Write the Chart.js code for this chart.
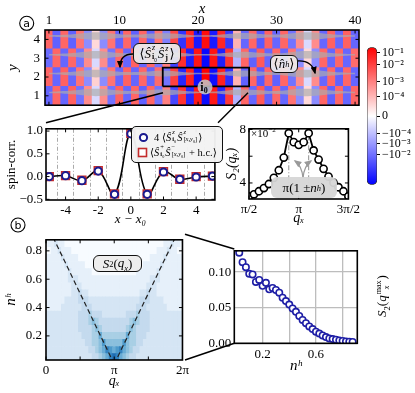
<!DOCTYPE html>
<html>
<head>
<meta charset="utf-8">
<script src="https://cdn.jsdelivr.net/npm/chart.js@4.4.0/dist/chart.umd.min.js"></script>
<style>
  body { margin: 0; width: 415px; height: 393px; overflow: hidden; position: relative; background: #fff;
         font-family: "Liberation Serif", "DejaVu Serif", serif; color: #000; }
  canvas { position: absolute; }
  .box { position: absolute; display: flex; align-items: center; justify-content: center; white-space: nowrap;
         border: 1.2px solid #111; border-radius: 6px; background: rgba(236,236,236,0.93); font-size: 13px; box-sizing: border-box; }
  .ss { display: inline-flex; flex-direction: column; vertical-align: middle; font-size: 0.62em; line-height: 1.05; margin: 0 1px; }
  .lg { position: absolute; font-size: 10.5px; white-space: nowrap; display: flex; align-items: center; }
  sup, sub { font-size: 0.65em; }
  svg { position: absolute; left: 0; top: 0; }
</style>
</head>
<body>
<canvas id="cMap" width="365" height="118" style="left:0;top:0"></canvas>
<canvas id="cBar" width="53" height="156" style="left:362px;top:38px"></canvas>
<canvas id="cSpin" width="222" height="109" style="left:0;top:118px"></canvas>
<canvas id="cS2" width="139" height="109" style="left:224px;top:118px"></canvas>
<canvas id="cMapB" width="192" height="162" style="left:0;top:228px"></canvas>
<canvas id="cMax" width="170" height="140" style="left:200px;top:240px"></canvas>

<svg width="415" height="393">
  <defs>
    <marker id="ah" viewBox="0 0 10 10" refX="8" refY="5" markerWidth="6" markerHeight="6" orient="auto">
      <path d="M0,1 L10,5 L0,9 z" fill="#000"/>
    </marker>
    <marker id="ahg" viewBox="0 0 10 10" refX="8" refY="5" markerWidth="6" markerHeight="6" orient="auto">
      <path d="M0,1 L10,5 L0,9 z" fill="#9a9a9a"/>
    </marker>
  </defs>
  <g stroke="#000" stroke-width="1.5" fill="none">
    <line x1="163" y1="92.7" x2="46" y2="122.7"/>
    <line x1="248" y1="92.7" x2="218" y2="122.7"/>
    <line x1="185" y1="234.3" x2="234.3" y2="249"/>
    <line x1="185" y1="360" x2="234.3" y2="343.3"/>
  </g>
  <path d="M133,54 Q120,54 120,67" stroke="#000" stroke-width="1.3" fill="none" marker-end="url(#ah)"/>
  <path d="M297,61 Q312,60 315,73" stroke="#000" stroke-width="1.3" fill="none" marker-end="url(#ah)"/>
  <path d="M303,178 Q302,166 295,161" stroke="#9a9a9a" stroke-width="1.3" fill="none" marker-end="url(#ahg)"/>
  <path d="M303,178 Q304,166 311,161" stroke="#9a9a9a" stroke-width="1.3" fill="none" marker-end="url(#ahg)"/>
  <circle cx="26.7" cy="23.3" r="7" stroke="#000" stroke-width="1.1" fill="#fff"/>
  <text x="26.7" y="27.3" text-anchor="middle" font-family="DejaVu Sans" font-size="11">a</text>
  <circle cx="18" cy="225" r="7" stroke="#000" stroke-width="1.1" fill="#fff"/>
  <text x="18" y="229" text-anchor="middle" font-family="DejaVu Sans" font-size="11">b</text>
  <circle cx="205" cy="87" r="7.5" fill="rgba(196,196,196,0.88)"/>
  <text x="204" y="91" text-anchor="middle" font-family="Liberation Serif" font-weight="bold" font-size="12">i<tspan font-size="8" dy="2">0</tspan></text>
</svg>

<div class="box" style="left:133px;top:43px;width:48px;height:21px;">⟨<i>Ŝ</i><span class="ss"><i>z</i><span><b>i</b><sub>0</sub></span></span><i>Ŝ</i><span class="ss"><i>z</i><b>j</b></span>⟩</div>
<div class="box" style="left:270px;top:55px;width:28px;height:18px;">⟨<i>n̂</i><sup><i>h</i></sup>⟩</div>

<div class="box" style="left:131px;top:126px;width:92px;height:37px;border-width:1px;border-radius:5px;background:rgba(243,243,243,0.96);"></div>
<div class="lg" style="left:138px;top:130px;height:14px;">
  <svg width="11" height="11" style="position:static;margin-right:5px"><circle cx="5.5" cy="5.5" r="3.6" stroke="#1b1b8f" stroke-width="2" fill="#fff"/></svg>
  4&nbsp;⟨<i>Ŝ</i><span class="ss"><i>z</i><span><b>i</b><sub>0</sub></span></span><i>Ŝ</i><span class="ss"><i>z</i><span>[<i>x</i>,<i>y</i><sub>0</sub>]</span></span>⟩
</div>
<div class="lg" style="left:137px;top:145px;height:14px;">
  <svg width="11" height="11" style="position:static;margin-right:2px"><rect x="1.5" y="1.5" width="8" height="8" stroke="#c42b2b" stroke-width="1.6" fill="#fff"/></svg>
  ⟨<i>Ŝ</i><span class="ss"><span>+</span><span><b>i</b><sub>0</sub></span></span><i>Ŝ</i><span class="ss"><span>−</span><span>[<i>x</i>,<i>y</i><sub>0</sub>]</span></span>&nbsp;+&nbsp;h.c.⟩
</div>

<div style="position:absolute;left:251px;top:126px;font-size:11px;">×10<sup>−2</sup></div>
<div class="box" style="left:271px;top:177px;width:66px;height:21px;border:none;background:rgba(214,214,214,0.95);">π(1 ± <i>n</i><sup><i>h</i></sup>)</div>
<div class="box" style="left:93px;top:255px;width:49px;height:17px;"><i>S</i><sub>2</sub>(<i>q<sub>x</sub></i>)</div>
<div style="position:absolute;left:343px;top:287px;width:80px;height:18px;text-align:center;font-size:13px;transform:rotate(-90deg);white-space:nowrap;"><i>S</i><sub>2</sub>(<i>q</i><span class="ss"><span>max</span><i>x</i></span>)</div>

<script>
// ---------- panel (a): lattice map ----------
const siteX = [1,2,3,4,5,6,7,8,9,10,11,12,13,14,15,16,17,18,19,20,21,22,23,24,25,26,27,28,29,30,31,32,33,34,35,36,37,38,39,40];
const rowY = [1, 2, 3, 4];
// colour level on the colour bar, -1 (blue) .. 1 (red)
const corrY1 = [-0.60,0.60,-0.60,0.62,-0.55,0.45,-0.15,0.45,-0.55,0.62,-0.60,0.60,-0.62,0.60,-0.55,0.50,-0.72,0.80,-0.85,0.90,-0.95,0.90,-0.85,0.78,-0.30,0.60,-0.60,0.65,-0.62,0.60,-0.60,0.55,-0.45,0.15,-0.45,0.60,-0.62,0.60,-0.60,0.60];
const corrY2 = [0.60,-0.60,0.62,-0.60,0.55,-0.45,0.18,-0.45,0.55,-0.60,0.62,-0.60,0.60,-0.60,0.58,-0.55,0.75,-0.85,0.88,-0.95,1.00,-0.95,0.88,-0.82,0.30,-0.62,0.60,-0.65,0.60,-0.62,0.60,-0.55,0.45,-0.15,0.45,-0.60,0.60,-0.62,0.60,-0.60];
const corrY3 = [-0.58,0.60,-0.60,0.60,-0.55,0.45,-0.15,0.45,-0.55,0.60,-0.60,0.62,-0.60,0.60,-0.55,0.50,-0.75,0.82,-0.88,0.92,-0.97,0.92,-0.88,0.80,-0.30,0.60,-0.62,0.65,-0.60,0.60,-0.60,0.55,-0.45,0.15,-0.45,0.60,-0.60,0.60,-0.60,0.58];
const corrY4 = [0.60,-0.62,0.60,-0.62,0.55,-0.45,0.15,-0.45,0.55,-0.62,0.60,-0.62,0.60,-0.62,0.55,-0.50,0.72,-0.80,0.85,-0.90,0.95,-0.90,0.85,-0.78,0.30,-0.60,0.60,-0.65,0.62,-0.60,0.60,-0.55,0.45,-0.15,0.45,-0.60,0.62,-0.60,0.62,-0.60];
const holeDens = [0.04,0.05,0.07,0.10,0.14,0.18,0.20,0.18,0.14,0.10,0.08,0.08,0.10,0.13,0.15,0.15,0.13,0.09,0.06,0.04,0.04,0.05,0.08,0.12,0.15,0.16,0.14,0.11,0.08,0.08,0.10,0.15,0.19,0.20,0.18,0.14,0.10,0.07,0.05,0.04];
const xTicksTop = [1, 10, 20, 30, 40];
const zoomBoxX = [15.5, 26.5];
const zoomBoxY = [1.5, 2.5];

// colour bar ticks (position on bar, label)
const cbTickPos = [0.92, 0.75, 0.5, 0.28, 0, -0.26, -0.4, -0.56];
const cbTickLabels = ['10⁻¹', '10⁻²', '10⁻³', '10⁻⁴', '0', '−10⁻⁴', '−10⁻³', '−10⁻²'];

// ---------- spin correlations ----------
const dx = [-5, -4, -3, -2, -1, 0, 1, 2, 3, 4, 5];
const szsz = [0.00, 0.02, -0.09, 0.12, -0.39, 0.94, -0.39, 0.10, -0.06, -0.01, 0.01];
const spm = [0.00, 0.02, -0.08, 0.13, -0.38, 0.95, -0.38, 0.11, -0.06, 0.00, 0.01];
const dxTicks = [-4, -2, 0, 2, 4];
const dxGuides = [-4.5, -3.5, -2.5, -1.5, -0.5, 0.5, 1.5, 2.5, 3.5, 4.5];

// ---------- S2(q_x), q in units of pi, S2 in units of 1e-2 ----------
const qx = [0.5,0.55,0.6,0.65,0.7,0.75,0.8,0.85,0.9,0.95,1.0,1.05,1.1,1.15,1.2,1.25,1.3,1.35,1.4,1.45,1.5];
const s2 = [2.99,3.15,3.38,3.62,3.92,4.38,4.95,5.9,7.72,7.05,6.85,7.05,7.72,6.43,5.75,5.06,4.48,4.02,3.68,3.38,3.0];
const peakQ = [0.9, 1.1];
const qTicks = [0.5, 1, 1.5];
const qTickLabels = ['π/2', 'π', '3π/2'];
const s2Ticks = [4, 6, 8];

// ---------- panel (b): S2(q_x) map ----------
const nhRows = [0.05,0.10,0.15,0.20,0.25,0.30,0.35,0.40,0.45,0.50,0.55,0.60,0.65,0.70,0.75,0.80,0.85];
const qCols = [0,0.05,0.1,0.15,0.2,0.25,0.3,0.35,0.4,0.45,0.5,0.55,0.6,0.65,0.7,0.75,0.8,0.85,0.9,0.95,1.0,
               1.05,1.1,1.15,1.2,1.25,1.3,1.35,1.4,1.45,1.5,1.55,1.6,1.65,1.7,1.75,1.8,1.85,1.9,1.95,2.0];
// intensity 0..9 per cell, one string per n^h row
const mapLevels = [
  ['22222222222222', '3345689865433', '22222222222222'].join(''),
  ['2222222222222', '334568767865433', '2222222222222'].join(''),
  ['222222222222', '33445755555754433', '222222222222'].join(''),
  ['22222222222', '3334464444444644333', '22222222222'].join(''),
  ['2222222222', '333345433333334543333', '2222222222'].join(''),
  ['222222222', '23334543333333334543332', '222222222'].join(''),
  ['22222222', '2233343332222222333433322', '22222222'].join(''),
  ['1111122', '222233322222222222223332222', '2211111'].join(''),
  ['111111', '22223332222222222222223332222', '111111'].join(''),
  ['11111111', '22322', '111111111111111', '22322', '11111111'].join(''),
  ['1111111', '12221', '11111111111111111', '12221', '1111111'].join(''),
  ['111111', '12221', '1111111111111111111', '12221', '111111'].join(''),
  ['11111', '11211', '1111', '0000000000000', '1111', '11211', '11111'].join(''),
  ['1111', '11211', '111', '00000000000000000', '111', '11211', '1111'].join(''),
  ['111', '11211', '11', '000000000000000000000', '11', '11211', '111'].join(''),
  ['00', '11211', '1', '0000000000000000000000000', '1', '11211', '00'].join(''),
  ['0', '11211', '00000000000000000000000000000', '11211', '0'].join('')
];
const vLeft = [{x: 1, y: 0}, {x: 0.1, y: 0.9}];
const vRight = [{x: 1, y: 0}, {x: 1.9, y: 0.9}];
const bQTicks = [0, 0.5, 1, 1.5, 2];
const bQLabels = ['0', '', 'π', '', '2π'];
const nhTicks = [0.2, 0.4, 0.6, 0.8];

// ---------- S2(q_max) vs n^h ----------
const nh = [0.025,0.05,0.075,0.1,0.125,0.15,0.175,0.2,0.225,0.25,0.275,0.3,0.325,0.35,0.375,0.4,0.425,0.45,0.475,0.5,
            0.525,0.55,0.575,0.6,0.625,0.65,0.675,0.7,0.725,0.75,0.775,0.8,0.825,0.85,0.875];
const s2max = [0.1274,0.114,0.107,0.0977,0.0968,0.0863,0.089,0.0808,0.085,0.0758,0.0777,0.0749,0.0712,0.064,0.0593,
               0.0544,0.0489,0.0443,0.0384,0.0329,0.0283,0.0237,0.020,0.0164,0.0137,0.011,0.0087,0.0068,0.0059,0.005,
               0.0041,0.0032,0.0027,0.0023,0.0018];
const nhTicksR = [0.2, 0.4, 0.6, 0.8];
const s2maxTicks = [0, 0.05, 0.10];

// ---------- helpers ----------
const SERIF = '"Liberation Serif", "DejaVu Serif", serif';
Chart.defaults.font.family = SERIF;
Chart.defaults.font.size = 13;
Chart.defaults.color = '#000';
Chart.defaults.animation = false;
Chart.defaults.responsive = false;
Chart.defaults.devicePixelRatio = 1;
Chart.defaults.plugins.legend.display = false;
Chart.defaults.plugins.tooltip.enabled = false;

function bwr(u) {
  u = Math.max(-1, Math.min(1, u));
  if (u >= 0) { const c = Math.round(255 * (1 - u)); return `rgb(255,${c},${c})`; }
  const c = Math.round(255 * (1 + u)); return `rgb(${c},${c},255)`;
}

const BLUES = [[247,251,255],[222,235,247],[198,219,239],[158,202,225],[107,174,214],[66,146,198],[33,113,181],[8,81,156],[8,48,107]];
function blues(t) {
  const p = Math.max(0, Math.min(1, t)) * (BLUES.length - 1);
  const i = Math.min(BLUES.length - 2, Math.floor(p)), f = p - i;
  const c = BLUES[i].map((v, k) => Math.round(v + (BLUES[i + 1][k] - v) * f));
  return `rgb(${c[0]},${c[1]},${c[2]})`;
}

const setTicks = (vals) => (ax) => { ax.ticks = vals.map(v => ({value: v})); };
const pts = (xs, ys) => xs.map((x, i) => ({x, y: ys[i]}));
const noGrid = {display: false, drawTicks: false};

// frame with inward ticks, matplotlib style
const axesFrame = {
  id: 'axesFrame',
  afterDraw(chart, args, opts) {
    const {ctx, chartArea: a} = chart;
    ctx.save();
    ctx.strokeStyle = '#000';
    if (opts.ticks !== false) {
      ctx.lineWidth = 1;
      const L = 3.5;
      const xs = chart.scales.x, ys = chart.scales.y;
      ctx.beginPath();
      xs.ticks.forEach(t => {
        const p = xs.getPixelForValue(t.value);
        ctx.moveTo(p, a.bottom); ctx.lineTo(p, a.bottom - L);
        ctx.moveTo(p, a.top); ctx.lineTo(p, a.top + L);
      });
      ys.ticks.forEach(t => {
        const p = ys.getPixelForValue(t.value);
        ctx.moveTo(a.left, p); ctx.lineTo(a.left + L, p);
        ctx.moveTo(a.right, p); ctx.lineTo(a.right - L, p);
      });
      ctx.stroke();
    }
    ctx.lineWidth = 1.6;
    ctx.strokeRect(a.left, a.top, a.right - a.left, a.bottom - a.top);
    ctx.restore();
  }
};

// ---------- chart 1: lattice map ----------
const corrRows = [corrY1, corrY2, corrY3, corrY4];
const cellSets = corrRows.map((vals, r) => ({
  type: 'bar',
  data: vals.map((v, i) => ({x: siteX[i], y: [rowY[r] - 0.5, rowY[r] + 0.5]})),
  backgroundColor: vals.map(bwr),
  borderWidth: 0, barPercentage: 1, categoryPercentage: 1, grouped: false, clip: 0, order: 3
}));
const bandLift = 0.18;
const bandSets = [];
rowY.forEach(y => {
  bandSets.push({type: 'line', data: siteX.map((x, i) => ({x, y: y + bandLift + holeDens[i]})),
    borderColor: 'transparent', pointRadius: 0, tension: 0.4, fill: false, order: 2});
  bandSets.push({type: 'line', data: siteX.map((x, i) => ({x, y: y + bandLift - holeDens[i]})),
    borderColor: 'transparent', pointRadius: 0, tension: 0.4, fill: '-1',
    backgroundColor: 'rgba(172,172,172,0.68)', order: 2});
});
const rectSet = {
  type: 'line',
  data: [{x: zoomBoxX[0], y: zoomBoxY[0]}, {x: zoomBoxX[1], y: zoomBoxY[0]}, {x: zoomBoxX[1], y: zoomBoxY[1]},
         {x: zoomBoxX[0], y: zoomBoxY[1]}, {x: zoomBoxX[0], y: zoomBoxY[0]}],
  borderColor: '#000', borderWidth: 1.8, pointRadius: 0, tension: 0, fill: false, order: 1
};

new Chart(document.getElementById('cMap'), {
  type: 'bar',
  data: {datasets: [...cellSets, ...bandSets, rectSet]},
  options: {
    layout: {padding: {right: 6, bottom: 4}},
    scales: {
      x: {type: 'linear', position: 'top', min: 0.5, max: 40.5, offset: false,
          afterBuildTicks: setTicks(xTicksTop), afterFit: ax => { ax.height = 30; },
          grid: noGrid, border: {display: false}, ticks: {padding: 2},
          title: {display: true, text: 'x', font: {size: 15, style: 'italic'}, padding: {top: 0, bottom: 0}}},
      y: {type: 'linear', min: 0.5, max: 4.5,
          afterBuildTicks: setTicks(rowY), afterFit: ax => { ax.width = 45; },
          grid: noGrid, border: {display: false}, ticks: {padding: 5},
          title: {display: true, text: 'y', font: {size: 15, style: 'italic'}, padding: {top: 4, bottom: 0}}}
    }
  },
  plugins: [axesFrame]
});

// ---------- chart 2: colour bar ----------
new Chart(document.getElementById('cBar'), {
  type: 'bar',
  data: {labels: ['c'], datasets: [{
    data: [[-1, 1]],
    backgroundColor(ctx) {
      const chart = ctx.chart;
      if (!chart.chartArea) return '#fff';
      const y = chart.scales.y;
      const g = chart.ctx.createLinearGradient(0, y.getPixelForValue(1), 0, y.getPixelForValue(-1));
      [1, 0.5, 0, -0.5, -1].forEach(u => g.addColorStop((1 - u) / 2, bwr(u)));
      return g;
    },
    borderColor: '#333', borderWidth: 0.8, borderRadius: 5, borderSkipped: false,
    barPercentage: 1, categoryPercentage: 1
  }]},
  options: {
    layout: {padding: {left: 5, top: 7, bottom: 7}},
    scales: {
      x: {display: false},
      y: {position: 'right', min: -1, max: 1,
          afterBuildTicks: setTicks(cbTickPos), afterFit: ax => { ax.width = 38; },
          ticks: {callback: (v, i) => cbTickLabels[i], padding: 2, font: {size: 12}},
          grid: {display: true, drawOnChartArea: false, drawTicks: true, tickLength: 3, color: '#000'},
          border: {display: false}}
    }
  }
});

// ---------- chart 3: spin correlations ----------
new Chart(document.getElementById('cSpin'), {
  type: 'line',
  data: {datasets: [
    {data: pts(dx, szsz), borderColor: '#1b1b8f', pointStyle: 'circle', pointRadius: 3.6, pointBorderWidth: 2,
     pointBackgroundColor: '#fff', showLine: false, order: 1},
    {data: pts(dx, spm), borderColor: '#c42b2b', pointStyle: 'rect', pointRadius: 5.5, pointBorderWidth: 1.6,
     pointBackgroundColor: '#fff', showLine: false, order: 2},
    {data: pts(dx, szsz), borderColor: '#000', borderWidth: 1.6, tension: 0.4, pointRadius: 0, order: 3}
  ]},
  options: {
    layout: {padding: {top: 5, right: 4}},
    scales: {
      x: {type: 'linear', min: -5.2, max: 5.15,
          afterBuildTicks: setTicks(dxTicks), afterFit: ax => { ax.height = 27; },
          grid: noGrid, border: {display: false}, ticks: {padding: 3},
          title: {display: true, text: 'x − x₀', font: {size: 13, style: 'italic'}, padding: {top: 0, bottom: 0}}},
      xg: {type: 'linear', position: 'bottom', min: -5.2, max: 5.15,
           afterBuildTicks: setTicks(dxGuides), afterFit: ax => { ax.height = 0; },
           ticks: {display: false},
           grid: {display: true, drawTicks: false, color: '#aaaaaa', lineWidth: 1},
           border: {display: false, dash: [4, 2, 1, 2]}},
      y: {type: 'linear', min: -0.515, max: 1.05,
          afterBuildTicks: setTicks([-0.5, 0, 0.5, 1]), afterFit: ax => { ax.width = 46; },
          grid: noGrid, border: {display: false}, ticks: {padding: 3, callback: v => v.toFixed(1).replace('-', '−')},
          title: {display: true, text: 'spin-corr.', font: {size: 13}, padding: {top: 4, bottom: 0}}}
    }
  },
  plugins: [axesFrame]
});

// ---------- chart 4: S2(q_x) ----------
new Chart(document.getElementById('cS2'), {
  type: 'line',
  data: {datasets: [
    {data: pts(qx, s2), borderColor: '#000', borderWidth: 1.8, tension: 0, pointRadius: 3.6,
     pointBorderWidth: 1.6, pointBackgroundColor: '#fff', order: 1},
    ...peakQ.map(q => ({data: [{x: q, y: s2[qx.indexOf(q)] - 0.15}, {x: q, y: 3.4}],
      borderColor: '#9a9a9a', borderWidth: 1.1, borderDash: [5, 2, 1, 2], pointRadius: 0, order: 2}))
  ]},
  options: {
    layout: {padding: {top: 5, right: 5}},
    scales: {
      x: {type: 'linear', min: 0.5, max: 1.5,
          afterBuildTicks: setTicks(qTicks), afterFit: ax => { ax.height = 28; },
          grid: noGrid, border: {display: false}, ticks: {padding: 3, callback: (v, i) => qTickLabels[i]},
          title: {display: true, text: 'qₓ', font: {size: 14, style: 'italic'}, padding: {top: 0, bottom: 0}}},
      y: {type: 'linear', min: 2.8, max: 8.05,
          afterBuildTicks: setTicks(s2Ticks), afterFit: ax => { ax.width = 25; },
          grid: noGrid, border: {display: false}, ticks: {padding: 3, callback: v => (v === 6 ? '' : v)},
          title: {display: true, text: 'S₂(qₓ)', font: {size: 14, style: 'italic'}, padding: {top: 0, bottom: 0}}}
    }
  },
  plugins: [axesFrame]
});

// ---------- chart 5: S2 map vs n^h ----------
const mapSets = nhRows.map((h, r) => ({
  type: 'bar',
  data: qCols.map(q => ({x: q, y: [h - 0.025, h + 0.025]})),
  backgroundColor: qCols.map((q, j) => blues(Number(mapLevels[r][j] || 0) * 0.085)),
  borderWidth: 0, barPercentage: 1, categoryPercentage: 1, grouped: false, clip: 0, order: 2
}));
new Chart(document.getElementById('cMapB'), {
  type: 'bar',
  data: {datasets: [
    ...mapSets,
    {type: 'line', data: vLeft, borderColor: '#222', borderWidth: 1.2, borderDash: [5, 3], pointRadius: 0, order: 1},
    {type: 'line', data: vRight, borderColor: '#222', borderWidth: 1.2, borderDash: [5, 3], pointRadius: 0, order: 1}
  ]},
  options: {
    layout: {padding: {top: 6, right: 7}},
    scales: {
      x: {type: 'linear', min: 0, max: 2, offset: false,
          afterBuildTicks: setTicks(bQTicks), afterFit: ax => { ax.height = 30; },
          grid: noGrid, border: {display: false}, ticks: {padding: 3, callback: (v, i) => bQLabels[i]},
          title: {display: true, text: 'qₓ', font: {size: 14, style: 'italic'}, padding: {top: 0, bottom: 0}}},
      y: {type: 'linear', min: 0.03, max: 0.878,
          afterBuildTicks: setTicks(nhTicks), afterFit: ax => { ax.width = 46; },
          grid: noGrid, border: {display: false}, ticks: {padding: 4, callback: v => v.toFixed(1)},
          title: {display: true, text: 'nʰ', font: {size: 15, style: 'italic'}, padding: {top: 2, bottom: 0}}}
    }
  },
  plugins: [axesFrame]
});

// ---------- chart 6: S2(q_max) vs n^h ----------
new Chart(document.getElementById('cMax'), {
  type: 'line',
  data: {datasets: [
    {data: pts(nh, s2max), borderColor: '#1f1fa6', pointStyle: 'circle', pointRadius: 3.2, pointBorderWidth: 1.6,
     pointBackgroundColor: '#fff', showLine: false}
  ]},
  options: {
    layout: {padding: {top: 9, right: 12.7}},
    scales: {
      x: {type: 'linear', min: -0.012, max: 0.91,
          afterBuildTicks: setTicks(nhTicksR), afterFit: ax => { ax.height = 36.7; },
          grid: {display: true, drawTicks: false, color: '#bdbdbd', lineWidth: 1.3}, border: {display: false},
          ticks: {padding: 3, callback: v => (v === 0.2 || v === 0.6 ? v.toFixed(1) : '')},
          title: {display: true, text: 'nʰ', font: {size: 15, style: 'italic'}, padding: {top: 0, bottom: 5}}},
      y: {type: 'linear', min: 0, max: 0.13,
          afterBuildTicks: setTicks(s2maxTicks), afterFit: ax => { ax.width = 34.3; },
          grid: {display: true, drawTicks: false, color: '#bdbdbd', lineWidth: 1.3}, border: {display: false},
          ticks: {padding: 3, callback: v => v.toFixed(2)}}
    },
    plugins: {axesFrame: {ticks: false}}
  },
  plugins: [axesFrame]
});
</script>
</body>
</html>
